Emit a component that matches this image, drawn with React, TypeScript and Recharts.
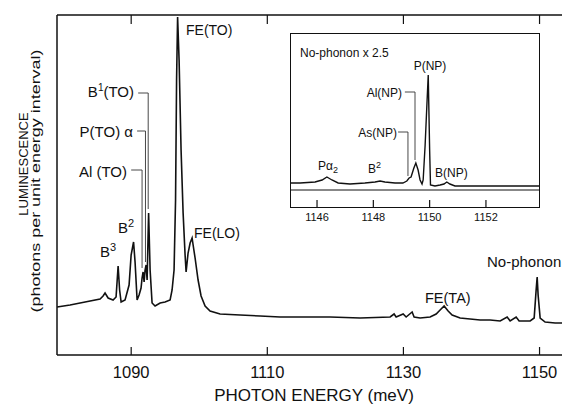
import React from 'react';
import { LineChart, Line, XAxis, YAxis, ReferenceLine } from 'recharts';

// Luminescence spectrum: photon energy (meV) vs intensity (arbitrary units)
const mainEnergy = [
  1079.11, 1081.02, 1083.23, 1085.43, 1085.87, 1086.16, 1086.61, 1087.34, 1087.78, 1088.08,
  1088.3, 1088.52, 1089.1, 1089.69, 1089.99, 1090.35, 1090.57, 1090.87, 1091.16, 1091.45,
  1091.6, 1091.75, 1091.9, 1092.04, 1092.19, 1092.34, 1092.56, 1092.78, 1093.07, 1093.51,
  1094.25, 1094.98, 1095.72, 1096.01, 1096.3, 1096.52, 1096.67, 1096.82, 1097.04, 1097.33,
  1097.63, 1097.92, 1098.07, 1098.36, 1098.66, 1098.95, 1099.1, 1099.39, 1099.83, 1100.27,
  1100.86, 1101.59, 1103.06, 1106.0, 1108.94, 1111.88, 1114.82, 1119.23, 1123.64, 1128.05,
  1128.63, 1128.93, 1129.96, 1130.4, 1131.28, 1131.57, 1132.45, 1133.92, 1134.81, 1135.39,
  1135.98, 1136.57, 1137.16, 1138.33, 1139.8, 1141.27, 1142.74, 1144.21, 1145.24, 1145.68,
  1146.56, 1147.0, 1148.62, 1149.21, 1149.5, 1149.65, 1149.79, 1150.09, 1150.82, 1152.29,
  1153.32,
];
const mainIntensity = [
  48, 50, 53, 56, 59, 62, 57, 55, 58, 89,
  65, 53, 55, 70, 100, 113, 93, 55, 60, 67,
  77, 83, 73, 85, 90, 75, 142, 85, 52, 49,
  52, 53, 55, 65, 85, 155, 275, 338, 295, 205,
  142, 100, 83, 102, 112, 117, 110, 97, 75, 59,
  49, 44, 41, 40, 39, 38, 38, 38, 37, 38,
  41, 38, 41, 38, 43, 38, 37, 38, 41, 45,
  49, 44, 40, 37, 36, 35, 35, 34, 38, 34,
  38, 34, 34, 37, 65, 78, 60, 37, 33, 32,
  32,
];

// No-phonon region, expanded x 2.5
const insetEnergy = [
  1145.04, 1145.4, 1145.93, 1146.18, 1146.35, 1146.53, 1146.75, 1147.17, 1147.7, 1148.06,
  1148.24, 1148.41, 1148.77, 1149.05, 1149.19, 1149.27, 1149.34, 1149.44, 1149.51, 1149.59,
  1149.66, 1149.73, 1149.77, 1149.84, 1149.91, 1149.95, 1150.0, 1150.03, 1150.19, 1150.37,
  1150.51, 1150.61, 1150.72, 1150.9, 1151.43, 1152.14, 1152.85, 1153.92,
];
const insetIntensity = [
  7, 7, 8, 10, 13, 10, 7, 6, 7, 8,
  9, 8, 7, 7, 9, 12, 13, 22, 27, 20,
  10, 6, 10, 45, 90, 115, 40, 5, 4, 5,
  6, 8, 6, 4, 4, 4, 4, 4,
];

const mainTicks = [1090, 1110, 1130, 1150];
const insetTicks = [1146, 1148, 1150, 1152];

const mainData = mainEnergy.map((e, i) => ({ e, v: mainIntensity[i] }));
const insetData = insetEnergy.map((e, i) => ({ e, v: insetIntensity[i] }));

const FONT = '"Liberation Sans", Arial, Helvetica, sans-serif';
const INK = '#111';

// inward tick on a bottom axis, label hanging below the axis line
const bottomTick = (len: number, gap: number, size: number) => (props: any) => {
  const { x, y, payload } = props;
  return (
    <g>
      <line x1={x} y1={y} x2={x} y2={y - len} stroke={INK} strokeWidth={1.2} />
      <text x={x} y={y + gap} textAnchor="middle" fontSize={size} fontFamily={FONT} fill={INK}>
        {payload.value}
      </text>
    </g>
  );
};

// inward tick on a top axis, no label
const topTick = (len: number) => (props: any) => (
  <line x1={props.x} y1={props.y} x2={props.x} y2={props.y + len} stroke={INK} strokeWidth={1.2} />
);

const lead = { stroke: '#333', strokeWidth: 0.9 };

export default function App() {
  const mainDomain: [number, number] = [1079.1, 1153.3];
  const insetDomain: [number, number] = [1145.04, 1153.92];
  const label = { fontFamily: FONT, fill: INK };

  return (
    <div style={{ position: 'absolute', left: 0, top: 0, width: 562, height: 407, background: '#fff' }}>
      <LineChart width={562} height={407} data={mainData} margin={{ top: 5, right: 0, bottom: 22, left: 0 }}>
        <XAxis
          dataKey="e" type="number" domain={mainDomain} allowDataOverflow ticks={mainTicks} interval={0}
          height={30} tickSize={0} tickMargin={0} tickLine={false}
          axisLine={{ stroke: INK, strokeWidth: 1.5 }} tick={bottomTick(8, 23, 16.5)}
        />
        <XAxis
          xAxisId="top" orientation="top" dataKey="e" type="number" domain={mainDomain} allowDataOverflow
          ticks={mainTicks} interval={0} height={10} tickSize={0} tickMargin={0} tickLine={false}
          axisLine={{ stroke: INK, strokeWidth: 1.5 }} tick={topTick(9)}
        />
        <YAxis
          type="number" domain={[0, 340]} allowDataOverflow width={57}
          tick={false} tickLine={false} axisLine={{ stroke: INK, strokeWidth: 1.5 }}
        />
        {/* leaders for the TO replicas */}
        <ReferenceLine segment={[{ x: 1090.0, y: 185 }, { x: 1091.6, y: 185 }]} {...lead} />
        <ReferenceLine segment={[{ x: 1091.6, y: 185 }, { x: 1091.6, y: 87 }]} {...lead} />
        <ReferenceLine segment={[{ x: 1090.87, y: 224 }, { x: 1092.1, y: 224 }]} {...lead} />
        <ReferenceLine segment={[{ x: 1092.1, y: 224 }, { x: 1092.1, y: 93 }]} {...lead} />
        <ReferenceLine segment={[{ x: 1091.03, y: 262 }, { x: 1092.5, y: 262 }]} {...lead} />
        <ReferenceLine segment={[{ x: 1092.5, y: 262 }, { x: 1092.5, y: 146 }]} {...lead} />
        <Line type="linear" dataKey="v" stroke={INK} strokeWidth={1.6} dot={false} isAnimationActive={false} />
      </LineChart>

      <div style={{ position: 'absolute', left: 290, top: 33, background: 'transparent' }}>
        <LineChart width={250} height={200} data={insetData} margin={{ top: 0, right: 0, bottom: 0, left: 0 }}>
          <XAxis
            dataKey="e" type="number" domain={insetDomain} allowDataOverflow ticks={insetTicks} interval={0}
            height={25} tickSize={0} tickMargin={0} tickLine={false} axisLine={false}
            tick={bottomTick(8, 13, 11)}
          />
          <XAxis
            xAxisId="top" orientation="top" dataKey="e" type="number" domain={insetDomain} allowDataOverflow
            ticks={insetTicks} interval={0} height={0} tickSize={0} tickMargin={0} tickLine={false}
            axisLine={false} tick={topTick(7)}
          />
          <YAxis hide type="number" domain={[-18, 157]} allowDataOverflow />
          <ReferenceLine y={0} stroke={INK} strokeWidth={1} />
          <ReferenceLine segment={[{ x: 1149.12, y: 98 }, { x: 1149.48, y: 98 }]} {...lead} />
          <ReferenceLine segment={[{ x: 1149.48, y: 98 }, { x: 1149.48, y: 30 }]} {...lead} />
          <ReferenceLine segment={[{ x: 1148.88, y: 58 }, { x: 1149.23, y: 58 }]} {...lead} />
          <ReferenceLine segment={[{ x: 1149.23, y: 58 }, { x: 1149.23, y: 14 }]} {...lead} />
          <Line type="linear" dataKey="v" stroke={INK} strokeWidth={1.4} dot={false} isAnimationActive={false} />
        </LineChart>
        <div
          style={{
            position: 'absolute', left: 0, top: 0, width: 250, height: 175,
            border: `1.5px solid ${INK}`, boxSizing: 'border-box', pointerEvents: 'none',
          }}
        />
      </div>

      <svg width={562} height={407} style={{ position: 'absolute', left: 0, top: 0, pointerEvents: 'none' }}>
        {/* axis titles */}
        <text transform="translate(28,164) rotate(-90)" textAnchor="middle" fontSize={13} {...label}>
          LUMINESCENCE
        </text>
        <text
          transform="translate(40,181) rotate(-90)" textAnchor="middle" fontSize={12}
          textLength={263} lengthAdjust="spacingAndGlyphs" {...label}
        >
          (photons per unit energy interval)
        </text>
        <text x={314} y={401} textAnchor="middle" fontSize={17} {...label}>PHOTON ENERGY (meV)</text>

        {/* main peak labels */}
        <text x={186} y={35} fontSize={14} {...label}>FE(TO)</text>
        <text x={134} y={97} textAnchor="end" fontSize={15} {...label}>
          B<tspan dy={-6} fontSize={10}>1</tspan><tspan dy={6}>(TO)</tspan>
        </text>
        <text x={133} y={137} textAnchor="end" fontSize={15} {...label}>P(TO) α</text>
        <text x={127} y={177} textAnchor="end" fontSize={15} {...label}>Al (TO)</text>
        <text x={118} y={233} fontSize={15} {...label}>
          B<tspan dy={-6} fontSize={11}>2</tspan>
        </text>
        <text x={100} y={257} fontSize={15} {...label}>
          B<tspan dy={-6} fontSize={11}>3</tspan>
        </text>
        <text x={194} y={238} fontSize={14} {...label}>FE(LO)</text>
        <text x={425} y={303} fontSize={14.5} {...label}>FE(TA)</text>
        <text x={487} y={267} fontSize={15} {...label}>No-phonon</text>

        {/* inset labels */}
        <text x={300} y={57} fontSize={12} {...label}>No-phonon x 2.5</text>
        <text x={430} y={70} textAnchor="middle" fontSize={12} {...label}>P(NP)</text>
        <text x={402} y={97} textAnchor="end" fontSize={12} {...label}>Al(NP)</text>
        <text x={397} y={137} textAnchor="end" fontSize={12} {...label}>As(NP)</text>
        <text x={318} y={170} fontSize={12} {...label}>
          Pα<tspan dy={3} fontSize={9}>2</tspan>
        </text>
        <text x={368} y={173} fontSize={12} {...label}>
          B<tspan dy={-5} fontSize={9}>2</tspan>
        </text>
        <text x={435} y={177} fontSize={12} {...label}>B(NP)</text>
      </svg>
    </div>
  );
}
